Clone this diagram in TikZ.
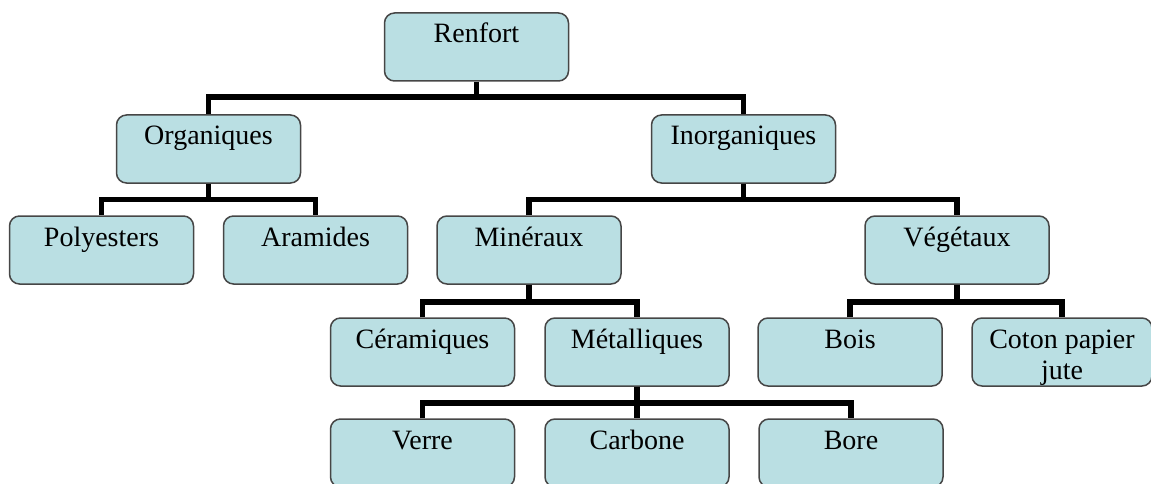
\documentclass[tikz,border=0pt]{standalone}
\usepackage{fontspec}
\setmainfont{Liberation Serif}
\usepackage{tikz}
\usetikzlibrary{positioning}
\usepackage{xcolor}
\definecolor{boxfill}{RGB}{186,223,227}
\definecolor{boxline}{RGB}{70,70,70}

\begin{document}
\begin{tikzpicture}[x=1pt,y=-1pt,
  box/.style={draw=boxline,line width=1.5pt,rounded corners=10pt,fill=boxfill,
    minimum width=184pt,minimum height=68pt,inner xsep=2pt,inner ysep=0pt,
    text height=30pt,text depth=38pt,align=center,font=\fontsize{28}{31}\selectfont},
  link/.style={line width=5.8pt}]
\useasboundingbox (0,0) rectangle (1151,484);
% boxes
\node[box] (renfort) at (476.5,47) {Renfort};
\node[box] (organiques) at (208.5,149) {Organiques};
\node[box] (inorganiques) at (743.5,149) {Inorganiques};
\node[box] (polyesters) at (101.5,250) {Polyesters};
\node[box] (aramides) at (315.5,250) {Aramides};
\node[box] (mineraux) at (529,250) {Minéraux};
\node[box] (vegetaux) at (957,250) {Végétaux};
\node[box] (ceramiques) at (422.5,352) {Céramiques};
\node[box] (metalliques) at (637,352) {Métalliques};
\node[box] (bois) at (850,352) {Bois};
\node[box,minimum width=180pt,text height=61pt,text depth=7pt] (coton) at (1062,352) {Coton papier\\jute};
\node[box] (verre) at (422.5,453) {Verre};
\node[box] (carbone) at (637,453) {Carbone};
\node[box] (bore) at (851,453) {Bore};
% junctions
\coordinate (j1) at (476.5,97);
\coordinate (j2) at (208.5,199.5);
\coordinate (j3) at (743.5,199.5);
\coordinate (j4) at (529,302);
\coordinate (j5) at (957,302);
\coordinate (j6) at (637,403);
% links
\draw[link] (renfort.south) -- (j1);
\draw[link] (organiques.north) -- (organiques.north |- j1) -- (inorganiques.north |- j1) -- (inorganiques.north);
\draw[link] (organiques.south) -- (j2);
\draw[link] (polyesters.north) -- (polyesters.north |- j2) -- (aramides.north |- j2) -- (aramides.north);
\draw[link] (inorganiques.south) -- (j3);
\draw[link] (mineraux.north) -- (mineraux.north |- j3) -- (vegetaux.north |- j3) -- (vegetaux.north);
\draw[link] (mineraux.south) -- (j4);
\draw[link] (ceramiques.north) -- (ceramiques.north |- j4) -- (metalliques.north |- j4) -- (metalliques.north);
\draw[link] (vegetaux.south) -- (j5);
\draw[link] (bois.north) -- (bois.north |- j5) -- (coton.north |- j5) -- (coton.north);
\draw[link] (metalliques.south) -- (carbone.north);
\draw[link] (verre.north) -- (verre.north |- j6) -- (bore.north |- j6) -- (bore.north);
\end{tikzpicture}
\end{document}
